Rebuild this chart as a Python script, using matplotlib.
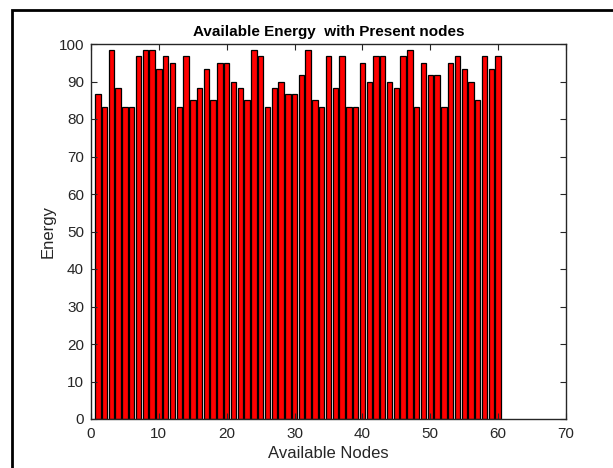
import matplotlib
matplotlib.use("Agg")
import matplotlib.pyplot as plt
from matplotlib.patches import Rectangle

plt.rcParams['font.family'] = ['Liberation Sans', 'DejaVu Sans']

### Data: energy of each node
nodes = list(range(1, 61))
energy = [86.7, 83.3, 98.3, 88.3, 83.3, 83.3, 96.7, 98.3, 98.3, 93.3,
          96.7, 95.0, 83.3, 96.7, 85.0, 88.3, 93.3, 85.0, 95.0, 95.0,
          90.0, 88.3, 85.0, 98.3, 96.7, 83.3, 88.3, 90.0, 86.7, 86.7,
          91.7, 98.3, 85.0, 83.3, 96.7, 88.3, 96.7, 83.3, 83.3, 95.0,
          90.0, 96.7, 96.7, 90.0, 88.3, 96.7, 98.3, 83.3, 95.0, 91.7,
          91.7, 83.3, 95.0, 96.7, 93.3, 90.0, 85.0, 96.7, 93.3, 96.7]
xticks = [0, 10, 20, 30, 40, 50, 60, 70]
yticks = [0, 10, 20, 30, 40, 50, 60, 70, 80, 90, 100]

W, H = 613, 468
fig = plt.figure(figsize=(W / 100, H / 100), dpi=100)
ax = fig.add_axes([91 / W, 1 - 419 / H, (566 - 91) / W, (419 - 44) / H])

ax.bar(nodes, energy, width=0.8, color='red', edgecolor='black', linewidth=0.9)

ax.set_xlim(0, 70)
ax.set_ylim(0, 100)
ax.set_xticks(xticks)
ax.set_yticks(yticks)
ax.tick_params(direction='in', top=True, right=True, length=4, labelsize=11, colors='#262626')
ax.tick_params(axis='x', pad=6)
ax.tick_params(axis='y', pad=5)
for s in ax.spines.values():
    s.set_color('#262626')
    s.set_linewidth(1.0)

ax.set_title("Available Energy  with Present nodes", fontsize=11, fontweight='bold', pad=6)
ax.set_xlabel("Available Nodes", fontsize=12, color='#262626', labelpad=3)
ax.set_ylabel("Energy", fontsize=12, color='#262626', labelpad=2)

### outer frame of the figure
fig.patches.append(Rectangle((11.5 / W, -0.1), 1.2, 1 - 9.5 / H + 0.1,
                             transform=fig.transFigure, fill=False,
                             edgecolor='black', linewidth=2))

plt.savefig("out.png", dpi=100)
plt.close()
